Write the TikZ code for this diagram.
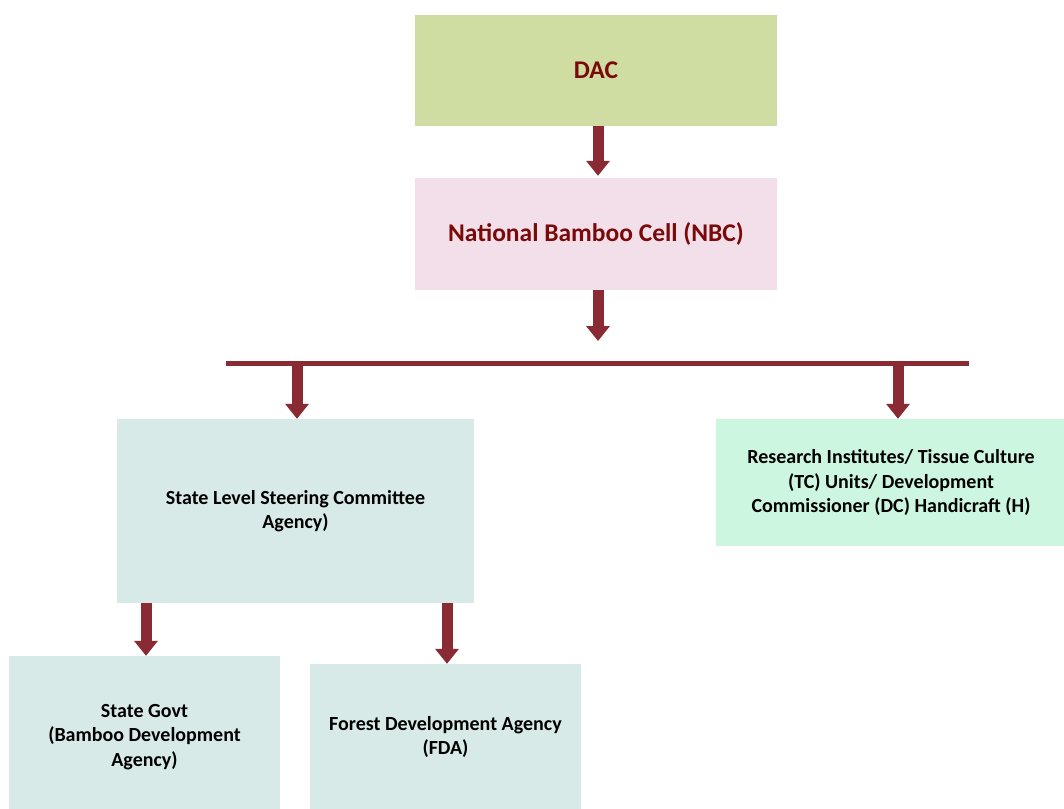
\documentclass[tikz,border=0pt]{standalone}
\usepackage{fontspec}
\setmainfont{Carlito}
\usetikzlibrary{arrows.meta}
\definecolor{arrowred}{HTML}{8A2B33}
\definecolor{titlered}{HTML}{7A0A0A}
\definecolor{dacgreen}{HTML}{D0DDA2}
\definecolor{nbcpink}{HTML}{F3DFEA}
\definecolor{boxteal}{HTML}{D7EAE8}
\definecolor{boxmint}{HTML}{CCF6E0}
\tikzset{
  box/.style={draw=none, inner sep=0pt, align=center, font=\bfseries\fontsize{20}{24.5}\selectfont},
  topbox/.style={box, text=titlered, font=\bfseries\fontsize{25.5}{28}\selectfont},
  blockarrow/.style={draw=arrowred, line width=11pt, -{Triangle[width=23pt,length=15pt]}},
  bar/.style={draw=arrowred, line width=5pt}
}
\begin{document}
\begin{tikzpicture}[x=1pt,y=-1pt]
\useasboundingbox (0,0) rectangle (1064,808);
\clip (0,0) rectangle (1064,808);
\node[topbox, fill=dacgreen, minimum width=362pt, minimum height=111pt] (dac) at (596,70.5) {DAC};
\node[topbox, fill=nbcpink, minimum width=362pt, minimum height=112pt] (nbc) at (596,234) {National Bamboo Cell (NBC)};
\coordinate (barL) at (226,363.5);
\coordinate (barR) at (969,363.5);
\draw[bar] (barL) -- (barR);
\coordinate (barA) at (598,341);
\coordinate (barS) at (297,366);
\coordinate (barT) at (898,366);
\node[box, fill=boxteal, minimum width=357pt, minimum height=184pt] (slsc) at (295.5,511) {State Level Steering Committee\\Agency)};
\node[box, fill=boxmint, minimum width=350pt, minimum height=127pt] (ri) at (891,482.5) {Research Institutes/ Tissue Culture\\(TC) Units/ Development\\Commissioner (DC) Handicraft (H)};
\node[box, fill=boxteal, minimum width=271pt, minimum height=162pt] (sg) at (144.5,737) {State Govt\\(Bamboo Development\\Agency)};
\node[box, fill=boxteal, minimum width=271pt, minimum height=146pt] (fda) at (445.5,737) {Forest Development Agency\\(FDA)};
\draw[blockarrow] ([xshift=2pt]dac.south) -- ([xshift=2pt,yshift=2pt]nbc.north);
\draw[blockarrow] ([xshift=2pt]nbc.south) -- (barA);
\draw[blockarrow] (barS) -- (barS |- slsc.north);
\draw[blockarrow] (barT) -- (barT |- ri.north);
\draw[blockarrow] ([xshift=-149.5pt]slsc.south) -- ([xshift=-149.5pt]slsc.south |- sg.north);
\draw[blockarrow] ([xshift=151.5pt]slsc.south) -- ([xshift=151.5pt]slsc.south |- fda.north);
\end{tikzpicture}
\end{document}
